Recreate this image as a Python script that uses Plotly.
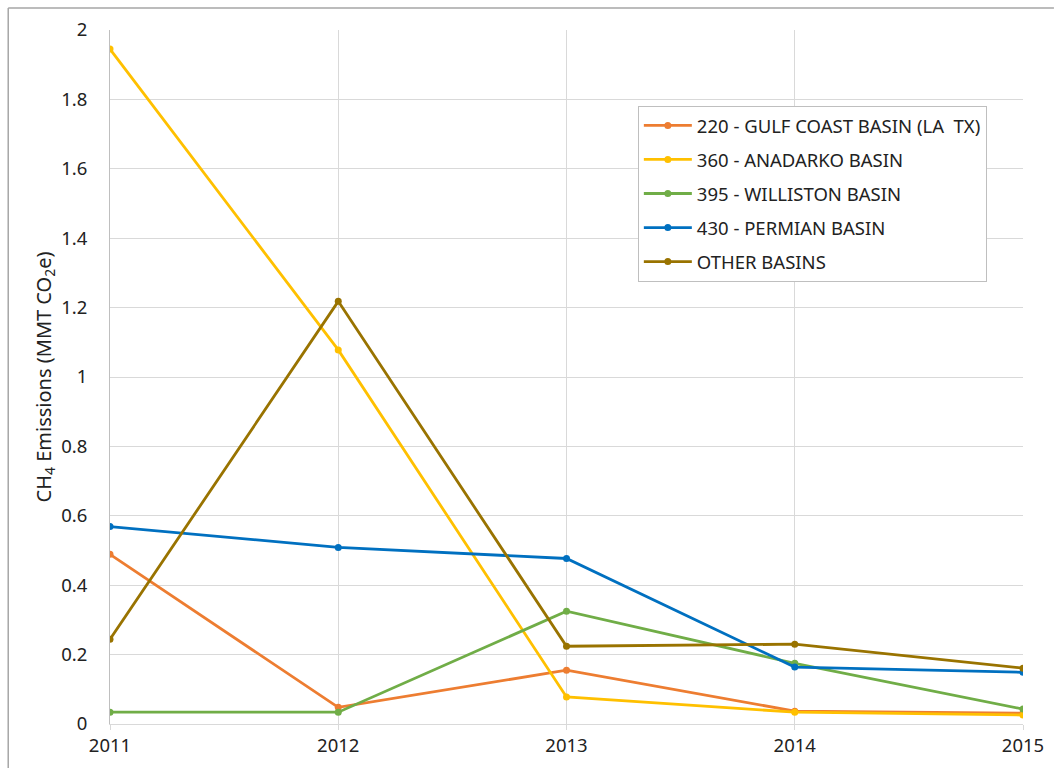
import plotly.graph_objects as go

years = [2011, 2012, 2013, 2014, 2015]
gulf_coast = [0.489, 0.048, 0.155, 0.037, 0.031]
anadarko = [1.945, 1.078, 0.078, 0.034, 0.026]
williston = [0.034, 0.034, 0.325, 0.175, 0.043]
permian = [0.569, 0.509, 0.477, 0.164, 0.149]
other = [0.244, 1.218, 0.224, 0.230, 0.161]

names = ["220 - GULF COAST BASIN (LA  TX)", "360 - ANADARKO BASIN",
         "395 - WILLISTON BASIN", "430 - PERMIAN BASIN", "OTHER BASINS"]
series = [gulf_coast, anadarko, williston, permian, other]
colors = ["#ED7D31", "#FFC000", "#70AD47", "#0070C0", "#997300"]

fig = go.Figure()
for i, (n, s, c) in enumerate(zip(names, series, colors)):
    fig.add_trace(go.Scatter(x=years, y=s, name=n, mode="lines+markers",
                             legendgroup=f"g{i}",
                             line=dict(color=c, width=2.8),
                             marker=dict(color=c, size=7)))

font = "Noto Sans, Open Sans, sans-serif"
W, H = 1056, 769
l, r, t, b = 110, W - 1025, 30, H - 725
pw, ph = W - l - r, H - t - b

def px_x(x):
    return (x - l) / pw

def px_y(y):
    return (H - b - y) / ph

fig.update_layout(
    width=W, height=H,
    margin=dict(l=l, r=r, t=t, b=b),
    paper_bgcolor="white", plot_bgcolor="white",
    font=dict(family=font, size=18, color="#222222"),
    showlegend=True,
    legend=dict(x=px_x(639), y=px_y(106), xanchor="left", yanchor="top",
                bgcolor="white", bordercolor="#BFBFBF", borderwidth=1,
                font=dict(family=font, size=18.5, color="#222222"),
                tracegroupgap=7, itemwidth=48),
    xaxis=dict(range=[2011, 2015], tickvals=years, ticktext=[str(y) for y in years],
               showgrid=True, gridcolor="#D9D9D9", gridwidth=1,
               showline=True, linecolor="#D9D9D9", linewidth=1,
               ticks="outside", ticklen=5, tickcolor="#D9D9D9",
               zeroline=False, tickfont=dict(size=18.5)),
    yaxis=dict(range=[0, 2], tickvals=[0, 0.2, 0.4, 0.6, 0.8, 1, 1.2, 1.4, 1.6, 1.8, 2],
               ticktext=["0", "0.2", "0.4", "0.6", "0.8", "1", "1.2", "1.4", "1.6", "1.8", "2"],
               showgrid=True, gridcolor="#D9D9D9", gridwidth=1,
               showline=True, linecolor="#BFBFBF", linewidth=1,
               zeroline=False, ticks="", ticklabelstandoff=18,
               title=dict(text="CH<sub>4</sub> Emissions (MMT CO<sub>2</sub>e)",
                          font=dict(size=20), standoff=4),
               tickfont=dict(size=18.5)),
    shapes=[
        dict(type="line", xref="paper", yref="paper",
             x0=px_x(8), x1=px_x(8), y0=px_y(8), y1=px_y(769),
             line=dict(color="#A6A6A6", width=1.5)),
        dict(type="line", xref="paper", yref="paper",
             x0=px_x(8), x1=px_x(1056), y0=px_y(8), y1=px_y(8),
             line=dict(color="#A6A6A6", width=1.5)),
    ],
)

fig.write_html("out.html", config={"displayModeBar": False},
               post_script="document.body.style.margin='0';document.body.style.overflow='hidden';")
